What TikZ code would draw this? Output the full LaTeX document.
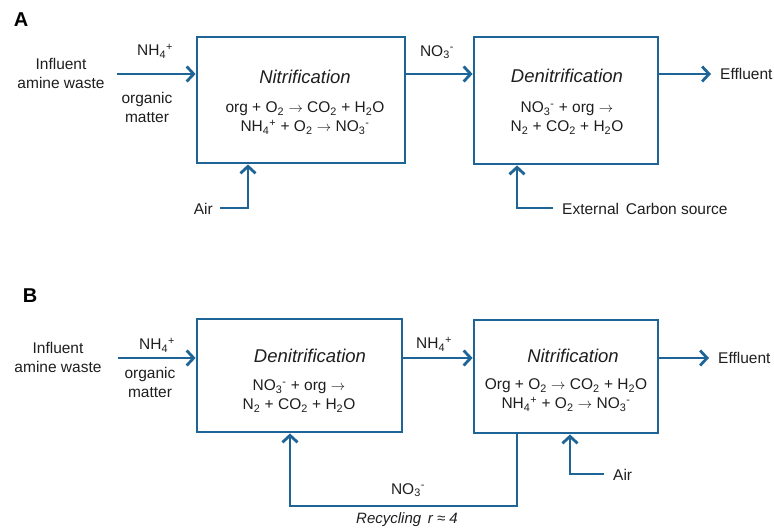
\documentclass[tikz,border=0pt]{standalone}
\usepackage{fontspec}
\setmainfont{Liberation Sans}
\usetikzlibrary{arrows.meta}
\definecolor{flow}{RGB}{30,100,150}
\definecolor{txt}{RGB}{30,30,30}
\newcommand{\sub}[1]{\textsubscript{#1}}
\newcommand{\sups}[1]{\textsuperscript{#1}}
\newcommand{\rarr}{\ensuremath{\rightarrow}}
\begin{document}
\begin{tikzpicture}[x=1pt,y=-1pt,
  box/.style={draw=flow,line width=2.8pt,minimum width=#1,inner sep=0pt},
  flowline/.style={draw=flow,line width=2.8pt},
  arr/.style={flowline,-{Straight Barb[length=7pt,width=15pt,line width=2.8pt]}},
  lbl/.style={font=\fontsize{15.5}{19}\selectfont,text=txt,inner sep=0pt,align=center},
  ttl/.style={font=\fontsize{18.5}{20}\selectfont\itshape,text=txt,inner sep=0pt},
  panel/.style={font=\fontsize{20}{22}\selectfont\bfseries,inner sep=0pt}]
\useasboundingbox (0,0) rectangle (774,531);
% ---------------- A ----------------
\node[panel] (pA) at (21,20) {A};
\node[box=208pt,minimum height=126pt] (n1A) at (301,100) {};
\node[box=184pt,minimum height=127pt] (n2A) at (566,100.5) {};
\node[ttl] (t1A) at (305,77) {Nitrification};
\node[lbl] (e1A) at (305,118) {org + O\sub{2} \rarr{} CO\sub{2} + H\sub{2}O\\NH\sub{4}\sups{+} + O\sub{2} \rarr{} NO\sub{3}\sups{-}};
\node[ttl] (t2A) at (567,76) {Denitrification};
\node[lbl] (e2A) at (567,118) {NO\sub{3}\sups{-} + org \rarr\\N\sub{2} + CO\sub{2} + H\sub{2}O};
\node[lbl] (infA) at (61,73) {Influent\\amine waste};
\node[lbl] (nhA) at (155,51) {NH\sub{4}\sups{+}};
\node[lbl] (orgA) at (147,107) {organic\\matter};
\node[lbl] (noA) at (437,52) {NO\sub{3}\sups{-}};
\node[lbl,anchor=west] (effA) at (720,74) {Effluent};
\node[lbl,anchor=east] (airA) at (213,209) {Air};
\node[lbl,anchor=west] (ecA) at (562,209) {External\, Carbon source};
\coordinate (inA) at (117,74);
\coordinate (outA) at (711,74);
\coordinate (airAx) at (220,208);
\coordinate (airAv) at (248,0);
\coordinate (ecAx) at (553,208);
\coordinate (ecAv) at (517,0);
\draw[arr] (inA) -- (inA -| n1A.west);
\draw[arr] (inA -| n1A.east) -- (inA -| n2A.west);
\draw[arr] (inA -| n2A.east) -- (outA);
\draw[arr] (airAx) -| (n1A.south -| airAv);
\draw[arr] (ecAx) -| (n2A.south -| ecAv);
% ---------------- B ----------------
\node[panel] (pB) at (30,296) {B};
\node[box=205pt,minimum height=113pt] (n1B) at (299.5,375.5) {};
\node[box=184pt,minimum height=113pt] (n2B) at (566,376.5) {};
\node[ttl] (t1B) at (310,356) {Denitrification};
\node[lbl] (e1B) at (299,396) {NO\sub{3}\sups{-} + org \rarr\\N\sub{2} + CO\sub{2} + H\sub{2}O};
\node[ttl] (t2B) at (573,356) {Nitrification};
\node[lbl] (e2B) at (566,395) {Org + O\sub{2} \rarr{} CO\sub{2} + H\sub{2}O\\NH\sub{4}\sups{+} + O\sub{2} \rarr{} NO\sub{3}\sups{-}};
\node[lbl] (infB) at (58,357) {Influent\\amine waste};
\node[lbl] (nhB) at (157,345) {NH\sub{4}\sups{+}};
\node[lbl] (orgB) at (150,382) {organic\\matter};
\node[lbl] (nhB2) at (434,344) {NH\sub{4}\sups{+}};
\node[lbl,anchor=west] (effB) at (718,358) {Effluent};
\node[lbl,anchor=west] (airB) at (613,475) {Air};
\node[lbl] (noB) at (408,490) {NO\sub{3}\sups{-}};
\node[lbl,font=\fontsize{15}{19}\selectfont\itshape] (recB) at (407,520) {Recycling \,r ≈ 4};
\coordinate (inB) at (118,358);
\coordinate (outB) at (709,358);
\coordinate (airBx) at (604,474);
\coordinate (airBv) at (570,0);
\coordinate (recR) at (517,0);
\coordinate (recL) at (290,0);
\coordinate (recY) at (0,506);
\draw[arr] (inB) -- (inB -| n1B.west);
\draw[arr] (inB -| n1B.east) -- (inB -| n2B.west);
\draw[arr] (inB -| n2B.east) -- (outB);
\draw[arr] (airBx) -| (n2B.south -| airBv);
\draw[arr] (n2B.south -| recR) |- (recY -| recL) -- (n1B.south -| recL);
\end{tikzpicture}
\end{document}
